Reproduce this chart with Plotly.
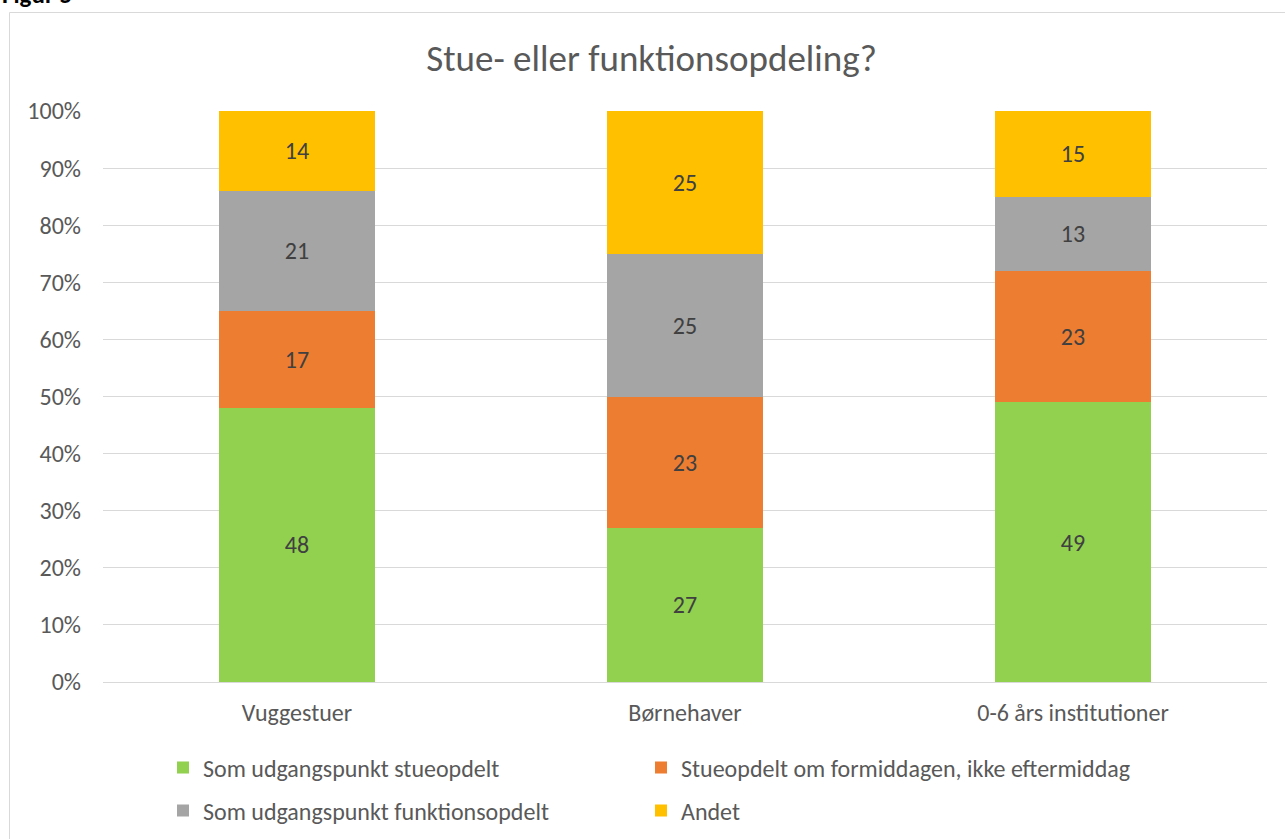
import plotly.graph_objects as go

categories = ["Vuggestuer", "Børnehaver", "0-6 års institutioner"]
series_names = [
    "Som udgangspunkt stueopdelt",
    "Stueopdelt om formiddagen, ikke eftermiddag",
    "Som udgangspunkt funktionsopdelt",
    "Andet",
]
stueopdelt = [48, 27, 49]
formiddag = [17, 23, 23]
funktionsopdelt = [21, 25, 13]
andet = [14, 25, 15]
colors = ["#92D050", "#ED7D31", "#A5A5A5", "#FFC000"]
tick_vals = [0, 10, 20, 30, 40, 50, 60, 70, 80, 90, 100]
tick_text = [f"{v}%" for v in tick_vals]

FONT = "Carlito, Calibri, Lato, sans-serif"
W, H = 1285, 839
ML, MR, MT, MB = 103, 18, 111, 157
PW, PH = W - ML - MR, H - MT - MB


def px_x(p):
    return (p - ML) / PW


def px_y(p):
    return (H - MB - p) / PH


fig = go.Figure()
all_series = [stueopdelt, formiddag, funktionsopdelt, andet]
legend_ids = ["legend", "legend2", "legend3", "legend4"]
for name, vals, col, lg in zip(series_names, all_series, colors, legend_ids):
    fig.add_trace(go.Bar(
        x=categories, y=vals, name=name, marker=dict(color=col, line=dict(width=0)),
        text=[str(v) for v in vals], textposition="inside", insidetextanchor="middle",
        textangle=0, textfont=dict(family=FONT, size=24, color="#404040"),
        legend=lg, hoverinfo="skip",
    ))

legend_common = dict(
    orientation="h", xanchor="left", yanchor="middle",
    font=dict(family=FONT, size=24, color="#595959"),
    itemsizing="constant", bgcolor="rgba(0,0,0,0)",
)
col_x = [163, 641, 163, 641]
row_y = [768, 768, 811, 811]
legend_layout = {}
for lg, cx, ry in zip(legend_ids, col_x, row_y):
    legend_layout[lg] = dict(x=px_x(cx), y=px_y(ry), **legend_common)

fig.update_layout(
    width=W, height=H,
    margin=dict(l=ML, r=MR, t=MT, b=MB, autoexpand=False),
    paper_bgcolor="white", plot_bgcolor="white",
    barmode="stack", bargap=0.6,
    title=dict(text="Stue- eller funktionsopdeling?", x=0.507, xanchor="center",
               y=1 - 58 / H, yanchor="middle",
               font=dict(family=FONT, size=37, color="#595959")),
    xaxis=dict(showgrid=False, showline=False, ticks="", ticklabelstandoff=14,
               tickfont=dict(family=FONT, size=24, color="#595959")),
    yaxis=dict(range=[0, 100], tickvals=tick_vals, ticktext=tick_text,
               showgrid=True, gridcolor="#D9D9D9", gridwidth=1,
               zeroline=True, zerolinecolor="#D9D9D9", zerolinewidth=1,
               showline=False, ticks="", ticklabelstandoff=21,
               tickfont=dict(family=FONT, size=24, color="#595959")),
    showlegend=True,
    **legend_layout,
)

# chart frame
fig.add_shape(type="rect", xref="paper", yref="paper",
              x0=px_x(9.5), x1=px_x(1300), y0=px_y(860), y1=px_y(12.5),
              line=dict(color="#D9D9D9", width=1), fillcolor="rgba(0,0,0,0)", layer="below")

fig.add_annotation(text="<b>Figur 5</b>", xref="paper", yref="paper",
                   x=px_x(0), y=px_y(12), xanchor="left", yanchor="bottom",
                   showarrow=False, font=dict(family=FONT, size=25, color="#000000"))

fig.write_html("out.html", config={"displayModeBar": False},
               post_script="document.body.style.margin='0';")
